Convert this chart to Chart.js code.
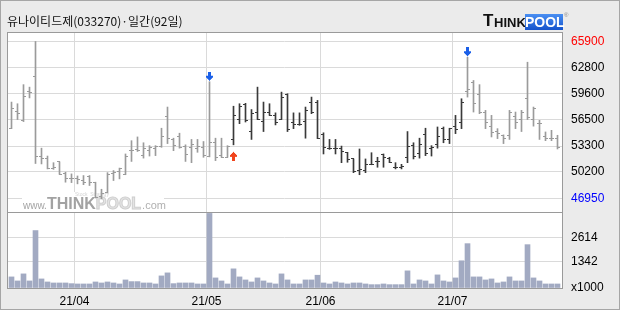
<!DOCTYPE html>
<html><head><meta charset="utf-8">
<script src="https://cdn.jsdelivr.net/npm/chart.js@4/dist/chart.umd.min.js"></script>
<style>
html,body{margin:0;padding:0;}
body{width:620px;height:310px;background:#ebebeb;position:relative;overflow:hidden;}
#frame{position:absolute;left:0;top:0;width:620px;height:310px;box-sizing:border-box;border:1px solid #a6a6a6;z-index:5;}
#plotbg{position:absolute;left:7px;top:32px;width:556px;height:257px;background:#fff;z-index:0;}
#box{position:absolute;left:7px;top:32px;width:556px;height:257px;box-sizing:border-box;border:1px solid #9a9a9a;z-index:3;}
#sep{position:absolute;left:7px;top:212px;width:556px;height:1px;background:#9a9a9a;z-index:3;}
canvas{position:absolute;left:0;top:0;z-index:1;}
#title{position:absolute;left:7px;top:12px;font-size:12px;font-family:"Noto Sans CJK KR",sans-serif;color:#111;white-space:nowrap;z-index:4;}
.lg{position:absolute;font-family:"Liberation Sans",Arial,sans-serif;font-weight:bold;z-index:4;white-space:nowrap;}
#lt{left:483px;top:11px;font-size:17px;color:#111;}
#lh{left:494px;top:15px;font-size:13px;color:#111;}
#lp{left:525px;top:14px;width:38px;height:16px;line-height:16px;font-size:14px;color:#fff;text-align:center;background:linear-gradient(#4a8ff2,#1453cc);}
#lr{left:564px;top:12px;font-size:6px;color:#888;font-weight:normal;}
</style></head>
<body>
<div id="frame"></div>
<div id="plotbg"></div>
<canvas id="price" width="620" height="310"></canvas>
<canvas id="vol" width="620" height="310"></canvas>
<div id="box"></div>
<div id="sep"></div>
<div id="title">유나이티드제(033270)·일간(92일)</div>
<div class="lg" id="lt">T</div><div class="lg" id="lh">HINK</div><div class="lg" id="lp">POOL</div><div class="lg" id="lr">®</div>
<script>
// ---------------- data ----------------
const dates = [
 '21/03/17','21/03/18','21/03/19','21/03/22','21/03/23','21/03/24','21/03/25','21/03/26','21/03/29','21/03/30','21/03/31',
 '21/04/01','21/04/02','21/04/05','21/04/06','21/04/07','21/04/08','21/04/09','21/04/12','21/04/13','21/04/14','21/04/15','21/04/16',
 '21/04/19','21/04/20','21/04/21','21/04/22','21/04/23','21/04/26','21/04/27','21/04/28','21/04/29','21/04/30',
 '21/05/03','21/05/04','21/05/06','21/05/07','21/05/10','21/05/11','21/05/12','21/05/13','21/05/14','21/05/17','21/05/18','21/05/20',
 '21/05/21','21/05/24','21/05/25','21/05/26','21/05/27','21/05/28','21/05/31',
 '21/06/01','21/06/02','21/06/03','21/06/04','21/06/07','21/06/08','21/06/09','21/06/10','21/06/11','21/06/14','21/06/15','21/06/16',
 '21/06/17','21/06/18','21/06/21','21/06/22','21/06/23','21/06/24','21/06/25','21/06/28','21/06/29','21/06/30',
 '21/07/01','21/07/02','21/07/05','21/07/06','21/07/07','21/07/08','21/07/09','21/07/12','21/07/13','21/07/14','21/07/15','21/07/16',
 '21/07/19','21/07/20','21/07/21','21/07/22','21/07/23','21/07/26'
];
const open = [55400,57450,56400,59900,61700,52100,51750,50650,51400,49950,49450,49350,49150,49650,48900,47250,47650,49950,50250,49850,
 52750,52900,52150,52750,52950,53300,56900,54100,54500,53300,53150,53050,53150,52100,53750,52150,51950,54100,56500,58250,
 55000,57400,56250,57400,57000,56500,59500,56100,55850,56250,58600,58600,54650,52950,52950,52950,52500,51750,50350,50350,
 51050,51450,52250,51850,50750,50750,51950,53350,52350,54650,53050,53550,55450,54150,55600,56100,59900,61000,59500,57300,
 55700,55000,54600,54600,56900,56500,59000,56500,56000,54500,54200,54200];
const high = [58600,58400,60700,60400,65900,53050,52100,51300,51400,50150,49950,49700,49750,49750,48950,48100,50100,50350,50650,52350,
 53950,54400,53700,53350,53350,55450,58000,54250,54850,53450,54100,54100,53850,61050,54250,54250,53350,58100,58400,58450,
 57700,60400,58600,58400,57300,59800,59600,57300,57300,58000,59200,58800,54900,54100,54100,53300,52550,51750,52950,51750,
 52500,51950,52350,51950,51300,51100,55050,53700,54250,55450,53350,55600,55600,55450,57000,59000,64000,61200,60700,57600,
 57000,55400,54650,57600,57400,57600,63400,58000,56400,55000,55200,54600];
const low = [55400,56500,56250,59100,51200,51150,50550,50500,49900,48950,48900,48750,48650,48550,47050,46950,47650,49150,49350,49850,
 51450,52650,51850,52100,52150,53150,53600,52750,53050,51450,51300,52550,51950,52000,51550,51950,51950,53450,56000,56200,
 54100,56500,55050,57000,55850,56500,55050,55400,55800,54250,57200,54200,52350,52900,52350,51300,51350,50100,49850,50100,
 51050,50750,50750,51300,50550,50550,51300,51750,51850,52150,52100,53050,53700,53600,54800,55400,59200,57400,57200,55400,
 54400,54200,53600,54100,55400,55050,56500,55700,54100,53950,53950,52950];
const close = [57850,57250,59300,59700,52100,51850,50650,50700,49900,49450,49350,49250,48950,48950,47150,47550,49850,50100,50550,52100,
 52750,52750,53050,53150,53300,54500,54250,53350,53150,52250,53450,53250,52150,53700,51950,51950,53300,57000,58100,56400,
 57200,56500,57400,57000,56200,59200,55300,55850,55950,57600,57400,54250,53150,52950,52950,52650,51700,50250,50500,51050,
 51100,51450,51950,51350,50750,50900,53300,52100,53550,52350,53150,54500,54150,55400,55300,58600,60100,58400,57300,56100,
 54900,54800,54250,57400,56200,57400,56800,57800,56000,54200,54200,53150];
const volume = [572,364,728,364,2963,468,312,260,260,260,225,208,208,208,312,260,312,260,208,416,
 330,330,260,260,208,624,780,225,260,260,260,208,208,3847,520,364,208,988,572,416,
 312,520,364,260,208,728,416,208,208,416,416,659,260,208,312,260,208,260,260,208,
 173,173,208,173,173,173,884,208,416,364,208,676,364,312,520,1404,2288,572,572,416,
 468,260,312,572,364,364,2236,520,364,208,208,208];
const priceTicks = [46950,50200,53300,56500,59600,62800,65900];
const volumeTicks = [0,1342,2614];
const volumeUnit = 'x1000';
const buySignals = [37];
const sellSignals = [33,76];

// ---------------- derived ----------------
const idx = dates.map((_, i) => i);
const monthKey = d => d.slice(0,5);
const monthStarts = idx.filter(i => i > 0 && monthKey(dates[i]) !== monthKey(dates[i-1]));
const monthLabels = monthStarts.map(i => monthKey(dates[i]));
const holdRanges = buySignals.map(b => [b, (sellSignals.find(s => s > b) ?? dates.length)]);
const isHold = i => holdRanges.some(([b, s]) => i >= b && i < s);

const GRAY = '#9b9b9b', DARK = '#3a3a3a', GRID = '#dadada', VOLC = '#a2aac2';
const FONT = "'Liberation Sans', Arial, sans-serif";
Chart.defaults.font.family = FONT;
Chart.defaults.font.size = 12;
Chart.defaults.color = '#000';

function tickImg(color, side) {
  const c = document.createElement('canvas'); c.width = 5; c.height = 1;
  const g = c.getContext('2d'); g.fillStyle = color;
  if (side === 'L') g.fillRect(0, 0, 3, 1); else g.fillRect(2, 0, 3, 1);
  return c;
}
function arrowImg(color, dir) {
  const W = 7;
  const rows = dir === 'down' ? [3,3,3,3,7,7,5,3,1] : [1,3,5,7,7,3,3,3,3];
  const H = dir === 'down' ? 20 : 32, start = dir === 'down' ? 0 : 23;
  const c = document.createElement('canvas'); c.width = W; c.height = H;
  const g = c.getContext('2d'); g.fillStyle = color;
  rows.forEach((w, r) => g.fillRect((W - w) / 2, start + r, w, 1));
  return c;
}
const openImg = {g: tickImg(GRAY,'L'), d: tickImg(DARK,'L')};
const closeImg = {g: tickImg(GRAY,'R'), d: tickImg(DARK,'R')};
const downArrow = arrowImg('#1a5fe8', 'down');
const upArrow = arrowImg('#f0441c', 'up');

const xMin = -0.75, xMax = dates.length - 0.25;

const watermark = {
  id: 'wm',
  beforeDatasetsDraw(chart) {
    const {ctx, chartArea: a} = chart;
    ctx.save();
    const x0 = a.left + 16, base = a.bottom - 3;
    ctx.fillStyle = '#fff';
    ctx.fillRect(x0 - 1, a.bottom - 20, 142, 20);
    ctx.textBaseline = 'alphabetic';
    let x = x0;
    ctx.font = '10px ' + FONT; ctx.fillStyle = '#a4a4a4';
    ctx.fillText('www.', x, base); x += ctx.measureText('www.').width;
    ctx.font = 'bold 16px ' + FONT; ctx.fillStyle = '#a2a2a2';
    ctx.fillText('THINK', x, base); x += ctx.measureText('THINK').width;
    ctx.fillStyle = '#e4e4e4'; ctx.strokeStyle = '#cfcfcf'; ctx.lineWidth = 1;
    ctx.fillText('POOL', x, base); ctx.strokeText('POOL', x, base); x += ctx.measureText('POOL').width;
    ctx.font = '11px ' + FONT; ctx.fillStyle = '#b0b0b0';
    ctx.fillText('.com', x + 1, base);
    ctx.font = '5px ' + FONT; ctx.fillStyle = '#d4d4d4';
    ctx.fillText('Stock  Strategy', x0 + 52, base - 13);
    ctx.restore();
  }
};

const common = {animation: false, responsive: false, events: [],
  plugins: {legend: {display: false}, tooltip: {enabled: false}}};

new Chart(document.getElementById('price'), {
  type: 'bar',
  data: {datasets: [
    {type: 'bar', data: idx.map(i => ({x: i, y: [low[i], high[i]]})),
     backgroundColor: idx.map(i => isHold(i) ? DARK : GRAY), barThickness: 1, borderWidth: 0, order: 3},
    {type: 'scatter', data: idx.map(i => ({x: i, y: open[i]})),
     pointStyle: idx.map(i => isHold(i) ? openImg.d : openImg.g), pointRadius: 2, order: 2},
    {type: 'scatter', data: idx.map(i => ({x: i, y: close[i]})),
     pointStyle: idx.map(i => isHold(i) ? closeImg.d : closeImg.g), pointRadius: 2, order: 2},
    {type: 'scatter', data: sellSignals.map(i => ({x: i, y: high[i]})), pointStyle: downArrow, pointRadius: 4, order: 1},
    {type: 'scatter', data: buySignals.map(i => ({x: i, y: low[i]})), pointStyle: upArrow, pointRadius: 4, order: 1}
  ]},
  options: Object.assign({}, common, {
    layout: {padding: {left: 7, right: 0, top: 32, bottom: 98}},
    scales: {
      x: {type: 'linear', min: xMin, max: xMax, offset: false,
          afterBuildTicks: s => { s.ticks = monthStarts.map(i => ({value: i - 0.5})); },
          ticks: {display: false},
          grid: {color: GRID, drawTicks: false, offset: false}, border: {display: false}},
      y: {position: 'right', min: 45360, max: 67040,
          afterFit: s => { s.width = 58; },
          afterBuildTicks: s => { s.ticks = priceTicks.map(v => ({value: v})); },
          ticks: {padding: 9, callback: v => String(v),
                  color: c => c.tick && c.tick.value === Math.max(...priceTicks) ? '#ff0000'
                            : (c.tick && c.tick.value === Math.min(...priceTicks) ? '#0000ff' : '#000')},
          grid: {color: GRID, drawTicks: false}, border: {display: false}}
    }
  }),
  plugins: [watermark]
});

new Chart(document.getElementById('vol'), {
  type: 'bar',
  data: {datasets: [
    {data: idx.map(i => ({x: i, y: volume[i]})), backgroundColor: VOLC, barThickness: 5, borderWidth: 0}
  ]},
  options: Object.assign({}, common, {
    layout: {padding: {left: 7, right: 0, top: 212, bottom: 0}},
    scales: {
      x: {type: 'linear', min: xMin, max: xMax, offset: false,
          afterBuildTicks: s => { s.ticks = monthStarts.map(i => ({value: i - 0.5})); },
          afterFit: s => { s.height = 22; },
          ticks: {padding: 6, autoSkip: false, maxRotation: 0, callback: (v, k) => monthLabels[k]},
          grid: {color: GRID, drawTicks: false, offset: false}, border: {display: false}},
      y: {position: 'right', min: 0, max: 3920,
          afterFit: s => { s.width = 58; },
          afterBuildTicks: s => { s.ticks = volumeTicks.map(v => ({value: v})); },
          ticks: {padding: 9, callback: v => v === 0 ? volumeUnit : String(v)},
          grid: {color: c => (c.tick && c.tick.value === 0) ? 'rgba(0,0,0,0)' : GRID, drawTicks: false},
          border: {display: false}}
    }
  })
});
</script>
</body></html>
